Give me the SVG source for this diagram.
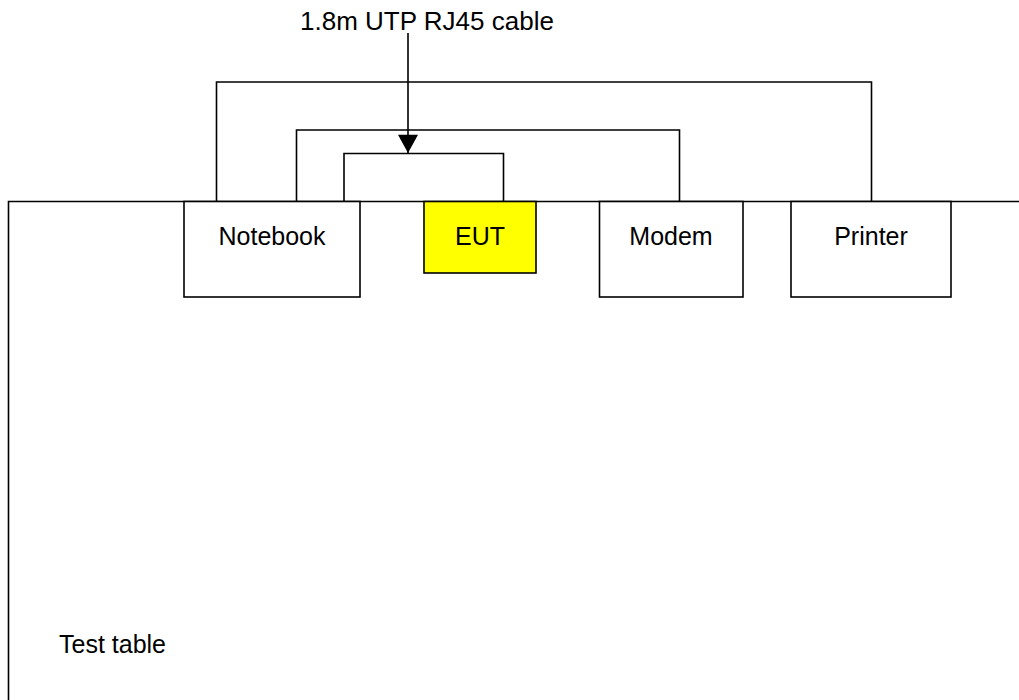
<svg xmlns="http://www.w3.org/2000/svg" width="1019" height="700" viewBox="0 0 1019 700">
  <style>
    .ln { fill: none; stroke: #000; stroke-width: 1.6; }
    .box { fill: #fff; stroke: #000; stroke-width: 1.6; }
    .eut { fill: #ffff00; stroke: #000; stroke-width: 1.6; }
    .t { font-family: "Liberation Sans", Arial, sans-serif; font-size: 25px; fill: #000; }
    .c { text-anchor: middle; }
  </style>
  <defs>
    <marker id="arr" markerWidth="22" markerHeight="20" refX="20" refY="11" orient="auto" markerUnits="userSpaceOnUse" viewBox="0 0 20 22">
      <path d="M0,0 L20,11 L0,22 Z" fill="#000"/>
    </marker>
  </defs>
  <rect width="1019" height="700" fill="#fff"/>
  <g id="table">
    <path class="ln" d="M8.5,700 V201.5 H1019"/>
    <text class="t" x="59" y="653">Test table</text>
  </g>
  <g id="connectors">
    <path class="ln" d="M216.5,201.5 V82 H871.5 V201.5"/>
    <path class="ln" d="M296.5,201.5 V130 H679.5 V201.5"/>
    <path class="ln" d="M344,201.5 V153.5 H503.5 V201.5"/>
    <line class="ln" x1="408" y1="33" x2="408" y2="153" marker-end="url(#arr)"/>
  </g>
  <g id="label">
    <text class="t c" x="427" y="29.5" style="font-size:26px">1.8m UTP RJ45 cable</text>
  </g>
  <g id="notebook">
    <rect class="box" x="184" y="201.5" width="176" height="95.5"/>
    <text class="t c" x="272" y="245">Notebook</text>
  </g>
  <g id="eut">
    <rect class="eut" x="424" y="201.5" width="112" height="71.5"/>
    <text class="t c" x="480" y="245">EUT</text>
  </g>
  <g id="modem">
    <rect class="box" x="599.5" y="201.5" width="143.5" height="95.5"/>
    <text class="t c" x="671" y="245">Modem</text>
  </g>
  <g id="printer">
    <rect class="box" x="791" y="201.5" width="160" height="95.5"/>
    <text class="t c" x="871" y="245">Printer</text>
  </g>
</svg>
